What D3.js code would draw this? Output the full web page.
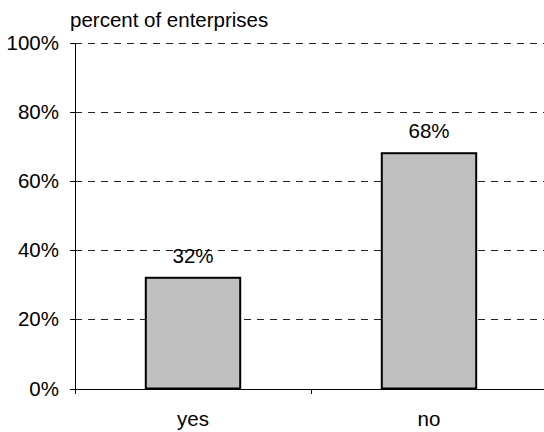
<!DOCTYPE html>
<html>
<head>
<meta charset="utf-8">
<script src="https://cdn.jsdelivr.net/npm/d3@7"></script>
<style>
  html, body { margin: 0; padding: 0; background: #fff; }
  svg { display: block; font-family: "Liberation Sans", Arial, sans-serif; }
</style>
</head>
<body>
<svg id="chart" width="544" height="432"></svg>
<script>
const categories = ["yes", "no"];
const values = [0.32, 0.68];
const valueLabels = ["32%", "68%"];
const yTicks = [0, 0.2, 0.4, 0.6, 0.8, 1.0];
const yTickLabels = ["0%", "20%", "40%", "60%", "80%", "100%"];
const yTitle = "percent of enterprises";

(function () {
const svg = d3.select("#chart");
const pL = 75, pR = 547, pT = 42.5, pB = 388.5;
const fs = 20.5;

const x = d3.scaleBand().domain(categories).range([pL, pR]).padding(0);
const y = d3.scaleLinear().domain([0, 1]).range([pB, pT]);

// gridlines
svg.append("g").selectAll("line").data(yTicks.filter(d => d > 0)).join("line")
  .attr("x1", pL).attr("x2", 544)
  .attr("y1", d => Math.round(y(d)) + 0.5).attr("y2", d => Math.round(y(d)) + 0.5)
  .attr("stroke", "#222").attr("stroke-width", 1).attr("stroke-dasharray", "7,6");

// y axis
const yAxis = svg.append("g");
yAxis.append("line").attr("x1", pL + 0.5).attr("x2", pL + 0.5)
  .attr("y1", Math.round(y(1))).attr("y2", Math.round(y(0)) + 5).attr("stroke", "#000");
yAxis.selectAll("line.tick").data(yTicks).join("line").attr("class", "tick")
  .attr("x1", pL - 5).attr("x2", pL)
  .attr("y1", d => Math.round(y(d)) + 0.5).attr("y2", d => Math.round(y(d)) + 0.5)
  .attr("stroke", "#000");
yAxis.selectAll("text").data(yTicks).join("text")
  .attr("x", 59).attr("y", d => y(d)).attr("dy", "0.35em")
  .attr("text-anchor", "end").attr("font-size", fs)
  .text((d, i) => yTickLabels[i]);

svg.append("text").attr("x", 70).attr("y", 27).attr("font-size", fs).text(yTitle);

// bars
const bw = x.bandwidth() * 0.4;
svg.append("g").selectAll("rect").data(values).join("rect")
  .attr("x", (d, i) => x(categories[i]) + x.bandwidth() / 2 - bw / 2)
  .attr("y", d => y(d))
  .attr("width", bw)
  .attr("height", d => y(0) - y(d))
  .attr("fill", "#c0c0c0").attr("stroke", "#000").attr("stroke-width", 2);

// value labels
svg.append("g").selectAll("text").data(values).join("text")
  .attr("x", (d, i) => x(categories[i]) + x.bandwidth() / 2)
  .attr("y", d => y(d) - 15)
  .attr("text-anchor", "middle").attr("font-size", fs)
  .text((d, i) => valueLabels[i]);

// x axis
const xAxis = svg.append("g");
xAxis.append("line").attr("x1", pL).attr("x2", 544)
  .attr("y1", Math.round(y(0)) + 0.5).attr("y2", Math.round(y(0)) + 0.5).attr("stroke", "#000");
xAxis.selectAll("line.tick").data(categories.slice(1)).join("line").attr("class", "tick")
  .attr("x1", d => Math.round(x(d)) + 0.5).attr("x2", d => Math.round(x(d)) + 0.5)
  .attr("y1", Math.round(y(0))).attr("y2", Math.round(y(0)) + 5).attr("stroke", "#000");
xAxis.selectAll("text").data(categories).join("text")
  .attr("x", d => x(d) + x.bandwidth() / 2).attr("y", 426)
  .attr("text-anchor", "middle").attr("font-size", fs)
  .text(d => d);
})();
</script>
</body>
</html>
